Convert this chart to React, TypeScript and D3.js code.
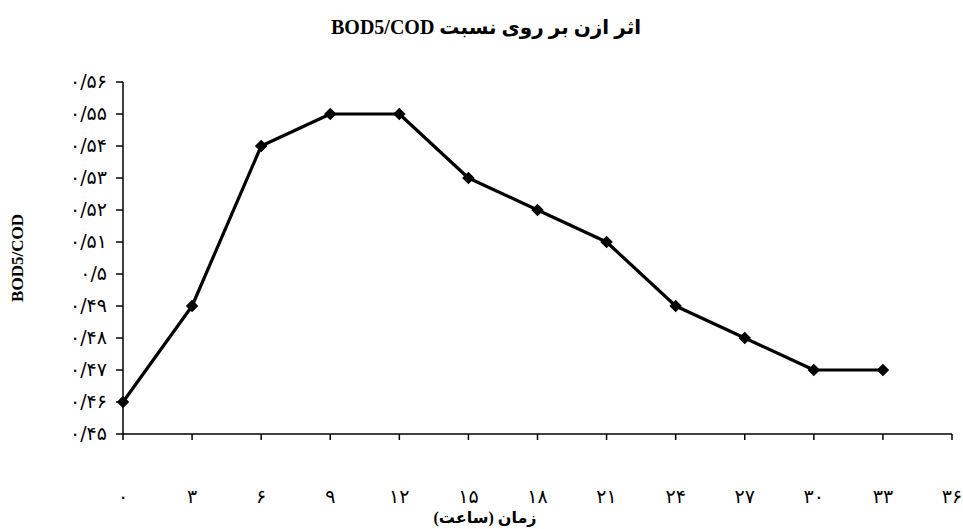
import React from 'react'
import * as d3 from 'd3'

// hours after ozonation
const hours = [0, 3, 6, 9, 12, 15, 18, 21, 24, 27, 30, 33]
// BOD5/COD ratio
const ratio = [0.46, 0.49, 0.54, 0.55, 0.55, 0.53, 0.52, 0.51, 0.49, 0.48, 0.47, 0.47]

const xTicks = [0, 3, 6, 9, 12, 15, 18, 21, 24, 27, 30, 33, 36]
const yTicks = [0.45, 0.46, 0.47, 0.48, 0.49, 0.5, 0.51, 0.52, 0.53, 0.54, 0.55, 0.56]

const title = 'اثر ازن بر روی نسبت BOD5/COD'
const xTitle = 'زمان (ساعت)'
const yTitle = 'BOD5/COD'

const W = 963
const H = 529
const margin = { left: 123, right: 11, top: 82, bottom: 95 }

const persianDigits = '۰۱۲۳۴۵۶۷۸۹'
const toPersian = (s: string) => s.replace(/[0-9]/g, d => persianDigits[+d]).replace('.', '/')

const fontFamily = "'Liberation Serif', 'DejaVu Sans', serif"
const numFont = "'DejaVu Sans', sans-serif"

export default function App() {
  const x = d3.scaleLinear().domain([0, 36]).range([margin.left, W - margin.right])
  const y = d3.scaleLinear().domain([0.45, 0.56]).range([H - margin.bottom, margin.top])

  const data = hours.map((h, i) => ({ h, v: ratio[i] }))
  const line = d3
    .line<{ h: number; v: number }>()
    .x(d => x(d.h))
    .y(d => y(d.v))

  const diamond = d3.symbol(d3.symbolDiamond2, 100)()
  const fmtY = (v: number) => {
    let s = d3.format('.2f')(v)
    s = s.replace(/0+$/, '')
    return toPersian(s)
  }

  const y0 = y(0.45)
  const x0 = x(0)

  return (
    <svg width={W} height={H} style={{ position: 'absolute', left: 0, top: 0, background: '#fff' }}>
      <text
        x={486}
        y={34}
        textAnchor="middle"
        fontFamily={fontFamily}
        fontWeight="bold"
        fontSize={20}
        direction="rtl"
      >
        {title}
      </text>

      {/* y axis */}
      <line x1={x0} x2={x0} y1={y(0.56)} y2={y0} stroke="#000" strokeWidth={1.5} />
      {yTicks.map(t => (
        <g key={t}>
          <line x1={x0 - 7} x2={x0} y1={y(t)} y2={y(t)} stroke="#000" strokeWidth={1.5} />
          <text x={107} y={y(t) + 6} textAnchor="end" fontFamily={numFont} fontSize={19}>
            {fmtY(t)}
          </text>
        </g>
      ))}

      {/* x axis */}
      <line x1={x0} x2={x(36)} y1={y0} y2={y0} stroke="#000" strokeWidth={1.5} />
      {xTicks.map(t => (
        <g key={t}>
          <line x1={x(t)} x2={x(t)} y1={y0} y2={y0 + 6} stroke="#000" strokeWidth={1.5} />
          <text x={x(t)} y={503} textAnchor="middle" fontFamily={numFont} fontSize={19}>
            {toPersian(String(t))}
          </text>
        </g>
      ))}

      <text
        x={485}
        y={523}
        textAnchor="middle"
        fontFamily={fontFamily}
        fontWeight="bold"
        fontSize={16}
        direction="rtl"
      >
        {xTitle}
      </text>
      <text
        transform={`translate(23,${(y(0.56) + y0) / 2}) rotate(-90)`}
        textAnchor="middle"
        fontFamily={fontFamily}
        fontWeight="bold"
        fontSize={17}
      >
        {yTitle}
      </text>

      <path d={line(data) || ''} fill="none" stroke="#000" strokeWidth={3.2} strokeLinejoin="round" />
      {data.map(d => (
        <path key={d.h} d={diamond || ''} transform={`translate(${x(d.h)},${y(d.v)})`} fill="#000" />
      ))}
    </svg>
  )
}
